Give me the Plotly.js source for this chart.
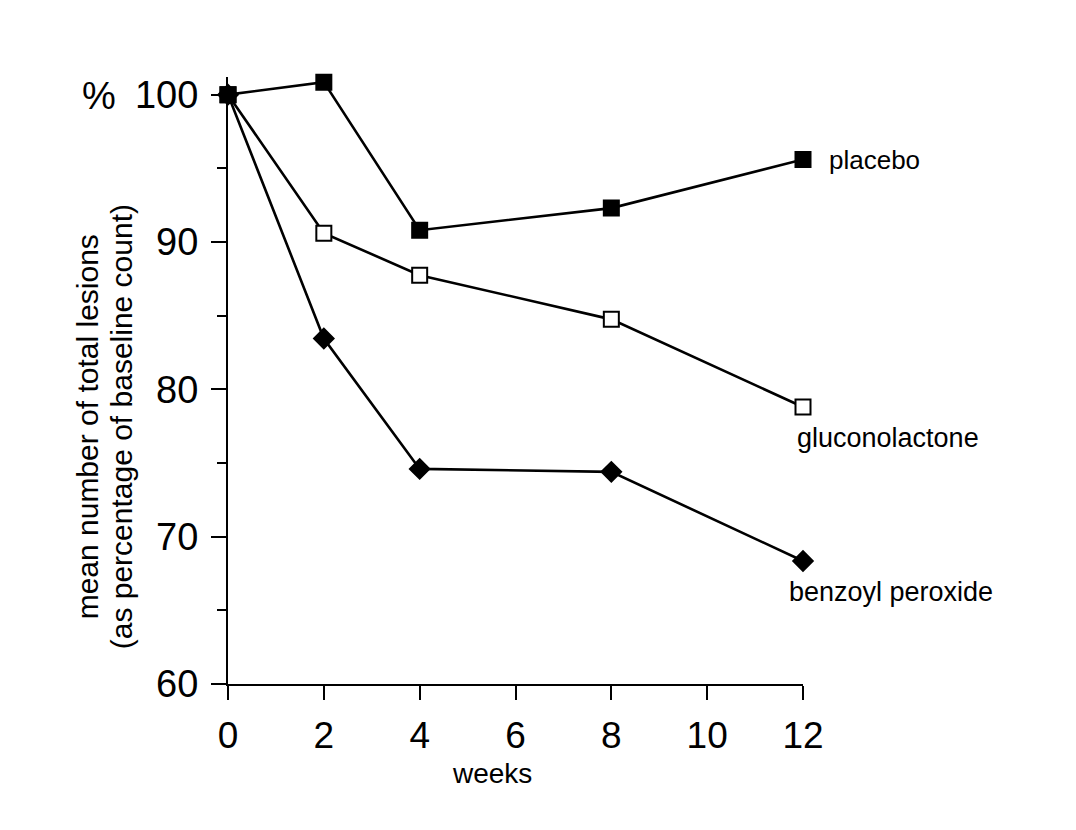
<!DOCTYPE html>
<html>
<head>
<meta charset="utf-8">
<script src="https://cdn.plot.ly/plotly-3.0.1.min.js"></script>
<style>
  html, body { margin: 0; padding: 0; background: #fff; }
  #chart { width: 1076px; height: 830px; }
</style>
</head>
<body>
<div id="chart"></div>
<script>
// Weeks of treatment
const weeks = [0, 2, 4, 8, 12];

// Mean number of total lesions, % of baseline count
const placebo = [100, 100.85, 90.8, 92.3, 95.6];
const gluconolactone = [100, 90.6, 87.75, 84.75, 78.8];
const benzoylPeroxide = [100, 83.45, 74.6, 74.4, 68.35];

const seriesNames = ['placebo', 'gluconolactone', 'benzoyl peroxide'];

const xTicks = [0, 2, 4, 6, 8, 10, 12];
const yTicks = [60, 70, 80, 90, 100];

const yTitleLines = ['mean number of total lesions', '(as percentage of baseline count)'];

const FONT = '"Liberation Sans", Arial, Helvetica, sans-serif';

function lineTrace(y, name, symbol, fill) {
  return {
    x: weeks,
    y: y,
    name: name,
    type: 'scatter',
    mode: 'lines+markers',
    line: { color: '#000', width: 2.6 },
    marker: {
      symbol: symbol,
      size: 15,
      color: fill,
      line: { color: '#000', width: 2 }
    },
    cliponaxis: false,
    showlegend: false
  };
}

const data = [
  lineTrace(benzoylPeroxide, seriesNames[2], 'diamond', '#000'),
  lineTrace(gluconolactone, seriesNames[1], 'square', '#fff'),
  lineTrace(placebo, seriesNames[0], 'square', '#000')
];

const labelFont = { family: FONT, size: 26, color: '#000' };
const titleFont = { family: FONT, size: 30, color: '#000' };

const layout = {
  width: 1076,
  height: 830,
  margin: { l: 228, r: 273, t: 77, b: 146 },
  paper_bgcolor: '#fff',
  plot_bgcolor: '#fff',
  font: { family: FONT, color: '#000' },
  xaxis: {
    range: [0, 12],
    tickvals: xTicks,
    ticktext: xTicks.map(String),
    ticks: 'outside',
    ticklen: 14,
    tickwidth: 2,
    tickcolor: '#000',
    showline: true,
    linecolor: '#000',
    linewidth: 2,
    showgrid: false,
    zeroline: false,
    tickfont: { family: FONT, size: 37, color: '#000' },
    ticklabelstandoff: 4
  },
  yaxis: {
    range: [60, 101.2],
    tickvals: yTicks,
    ticktext: yTicks.map(String),
    ticks: 'outside',
    ticklen: 15,
    tickwidth: 2,
    tickcolor: '#000',
    minor: { dtick: 5, ticks: 'outside', ticklen: 9, tickwidth: 2, tickcolor: '#000' },
    showline: true,
    linecolor: '#000',
    linewidth: 2,
    showgrid: false,
    zeroline: false,
    tickfont: { family: FONT, size: 38, color: '#000' },
    ticklabelstandoff: 5
  },
  annotations: [
    {
      text: '%', xref: 'paper', yref: 'paper', x: -0.258, y: 0.969,
      xanchor: 'left', yanchor: 'middle', showarrow: false,
      font: { family: FONT, size: 38, color: '#000' }
    },
    {
      text: yTitleLines[0],
      xref: 'paper', yref: 'paper', x: -0.245, y: 0.423,
      xanchor: 'center', yanchor: 'middle', textangle: -90, showarrow: false,
      font: titleFont
    },
    {
      text: yTitleLines[1],
      xref: 'paper', yref: 'paper', x: -0.186, y: 0.423,
      xanchor: 'center', yanchor: 'middle', textangle: -90, showarrow: false,
      font: titleFont
    },
    {
      text: 'weeks', xref: 'paper', yref: 'paper', x: 0.459, y: -0.147,
      xanchor: 'center', yanchor: 'middle', showarrow: false,
      font: { family: FONT, size: 28, color: '#000' }
    },
    {
      text: seriesNames[0], xref: 'paper', yref: 'paper', x: 1.0415, y: 0.863,
      xanchor: 'left', yanchor: 'middle', showarrow: false, font: labelFont
    },
    {
      text: seriesNames[1], xref: 'paper', yref: 'paper', x: 0.9865, y: 0.405,
      xanchor: 'left', yanchor: 'middle', showarrow: false, font: { family: FONT, size: 27, color: '#000' }
    },
    {
      text: seriesNames[2], xref: 'paper', yref: 'paper', x: 0.973, y: 0.1516,
      xanchor: 'left', yanchor: 'middle', showarrow: false, font: { family: FONT, size: 27, color: '#000' }
    }
  ]
};

Plotly.newPlot('chart', data, layout, { displayModeBar: false, staticPlot: true });
</script>
</body>
</html>
